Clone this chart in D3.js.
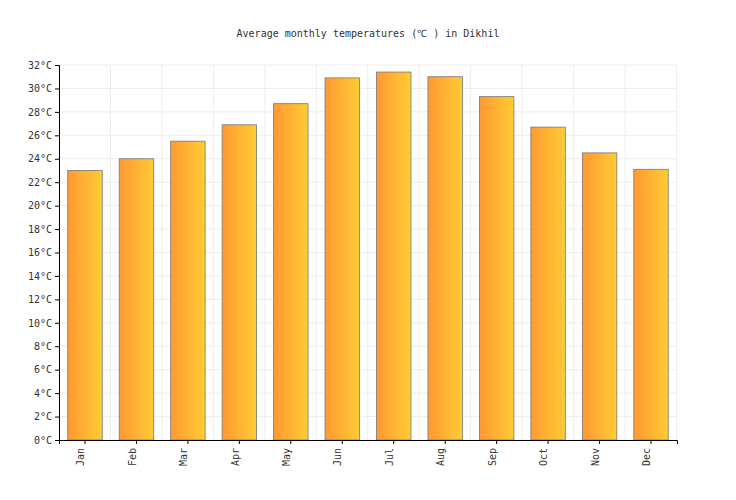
<!DOCTYPE html>
<html>
<head>
<meta charset="utf-8">
<script src="https://cdn.jsdelivr.net/npm/d3@7"></script>
<style>
  body { margin: 0; background: #fff; }
  text { font-family: "DejaVu Sans Mono", monospace; font-size: 10px; fill: #333; }
  .grid line { stroke: #eee; }
</style>
</head>
<body>
<svg width="736" height="500"></svg>
<script>
var months = ['Jan','Feb','Mar','Apr','May','Jun','Jul','Aug','Sep','Oct','Nov','Dec'];
var temps = [23.0, 24.0, 25.5, 26.9, 28.7, 30.9, 31.4, 31.0, 29.3, 26.7, 24.5, 23.1];
var yTicks = d3.range(0, 33, 2);

var svg = d3.select('svg');
var margin = { top: 65, left: 59, right: 59, bottom: 60 };
var width = 736 - margin.left - margin.right;
var height = 500 - margin.top - margin.bottom;

var defs = svg.append('defs');
var grad = defs.append('linearGradient').attr('id', 'barGrad');
grad.append('stop').attr('offset', '0%').attr('stop-color', '#ff9933');
grad.append('stop').attr('offset', '100%').attr('stop-color', '#ffcc33');

svg.append('text')
    .attr('x', 368).attr('y', 37)
    .attr('text-anchor', 'middle')
    .text('Average monthly temperatures (\u2103 ) in Dikhil');

var g = svg.append('g').attr('transform', `translate(${margin.left},${margin.top})`);

var x = d3.scaleBand().domain(months).range([0, width]).paddingInner(0.33).paddingOuter(0.17);
var y = d3.scaleLinear().domain([0, 32]).range([height, 0]);

// grid
var grid = g.append('g').attr('class', 'grid');
grid.selectAll('.h').data(yTicks).enter().append('line')
    .attr('x1', 0).attr('x2', width)
    .attr('y1', d => y(d)).attr('y2', d => y(d));
var step = x.step();
grid.selectAll('.v').data(d3.range(months.length + 1)).enter().append('line')
    .attr('x1', d => d * step).attr('x2', d => d * step)
    .attr('y1', 0).attr('y2', height);

g.selectAll('.bar').data(temps).enter().append('rect')
    .attr('x', (d, i) => x(months[i]))
    .attr('y', d => y(d))
    .attr('width', x.bandwidth())
    .attr('height', d => height - y(d))
    .attr('fill', 'url(#barGrad)')
    .attr('stroke', '#777')
    .attr('stroke-width', 0.8);

var yAxis = g.append('g').call(d3.axisLeft(y).tickValues(yTicks).tickFormat(d => d + '°C').tickSize(4));
yAxis.select('.domain').attr('stroke', '#000');

var xAxis = g.append('g').attr('transform', `translate(0,${height})`)
    .call(d3.axisBottom(x).tickSize(4));
xAxis.select('.domain').attr('stroke', '#000');
xAxis.selectAll('text')
    .attr('transform', 'rotate(-90)')
    .attr('text-anchor', 'end')
    .attr('x', -8).attr('y', -4).attr('dy', '0.32em');
xAxis.selectAll('.tick line').attr('stroke', '#000');
svg.selectAll('.tick text').style('font-family', '"DejaVu Sans Mono", monospace').style('fill', '#333');
</script>
</body>
</html>
